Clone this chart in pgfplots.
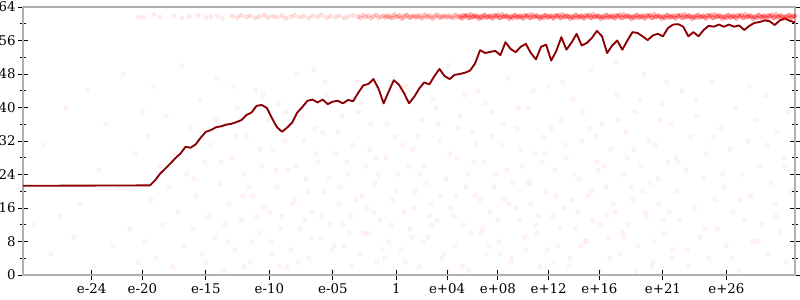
\documentclass[border=0pt]{standalone}
\usepackage{fontspec}
\setmainfont{DejaVu Serif}
\usepackage{pgfplots}
\pgfplotsset{compat=1.18}
\definecolor{lineRed}{RGB}{139,0,0}
\definecolor{axGray}{RGB}{176,176,176}
\begin{document}
\begin{tikzpicture}
\begin{axis}[
  scale only axis, width=579pt, height=201pt,
  xmin=-29.4, xmax=31.4, ymin=0, ymax=64,
  /pgf/number format/assume math mode=true,
  axis line style={draw=axGray, line width=1.1pt},
  tick style={black, line width=0.7pt},
  tick align=center,
  major tick length=8pt, minor tick length=4pt,
  xtick pos=bottom, ytick pos=both, yticklabel pos=left,
  xtick={-24,-20,-15,-10,-5,0,4,8,12,16,21,26},
  xticklabels={e-24,e-20,e-15,e-10,e-05,1,e+04,e+08,e+12,e+16,e+21,e+26},
  ytick={0,8,...,64}, minor y tick num=1,
  yticklabel style={xshift=2pt},
  xticklabel style={yshift=1pt},
  clip=false,
]
% scattered faint points
\addplot[only marks, mark=*, mark size=1.6pt, mark options={draw=red, fill=red, draw opacity=0.08, fill opacity=0.03}] coordinates {
(-28.5,12) (-27.8,31) (-27.2,5) (-26.5,14) (-26.0,40) (-25.4,9) (-24.9,17) (-24.3,44) (-23.8,2) (-23.4,25) (-22.9,36) (-22.3,7) (-21.9,21) (-21.5,48) (-21.0,11) (-20.6,29) (-20.3,3) (-20.0,39)
(-19.8,8) (-19.6,33) (-19.3,18) (-19.1,45) (-18.9,4) (-18.6,26) (-18.4,12) (-18.1,38) (-17.9,21) (-17.6,2) (-17.4,29) (-17.2,15) (-16.9,50) (-16.7,7) (-16.5,24) (-16.2,35) (-16.0,11) (-15.8,19) (-15.5,42) (-15.3,5) (-15.1,27) (-14.8,14) (-14.6,31) (-14.3,9) (-14.1,47) (-13.9,22) (-13.6,1) (-13.4,36) (-13.2,17) (-12.9,28) (-12.7,6) (-12.5,40) (-12.2,13) (-12.0,24) (-11.8,33) (-11.5,3) (-11.3,19) (-11.1,44) (-10.8,10) (-10.6,26) (-10.4,16) (-10.1,37) (-9.9,8) (-9.7,30) (-9.4,21) (-9.2,2) (-9.0,14) (-8.7,39) (-8.5,25) (-8.3,6) (-8.0,18) (-7.8,48) (-7.6,11) (-7.3,32) (-7.1,23) (-6.9,4) (-6.6,15) (-6.4,35) (-6.2,27) (-5.9,9) (-5.7,20) (-5.5,43) (-5.2,12) (-5.0,1) (-4.8,29) (-4.5,17) (-4.3,38) (-4.1,7) (-3.8,24) (-3.6,14) (-3.4,31) (-3.1,46) (-2.9,5) (-2.7,19) (-2.4,26) (-2.2,10) (-2.0,36) (-1.7,22) (-1.5,3) (-1.3,13) (-1.0,41) (-0.8,28) (-0.6,8) (-0.3,18) (-0.1,33)
(0.1,24) (0.4,6) (0.6,15) (0.8,45) (1.1,11) (1.3,30) (1.5,20) (1.8,2) (2.0,37) (2.2,26) (2.5,9) (2.7,17) (2.9,42) (3.2,13) (3.4,32) (3.6,4) (3.9,23) (4.1,50) (4.3,16) (4.6,7) (4.8,28) (5.0,38) (5.3,12) (5.5,21) (5.7,1) (6.0,34) (6.2,19) (6.4,44) (6.7,10) (6.9,27) (7.1,5) (7.4,15) (7.6,39) (7.8,24) (8.1,8) (8.3,31) (8.5,18) (8.8,47) (9.0,3) (9.2,22) (9.5,35) (9.7,13) (9.9,26) (10.2,6) (10.4,40) (10.6,17) (10.9,29) (11.1,10) (11.3,2) (11.6,33) (11.8,20) (12.0,45) (12.3,14) (12.5,25) (12.7,7) (13.0,37) (13.2,16) (13.4,28) (13.7,4) (13.9,42) (14.1,11) (14.4,23) (14.6,32) (14.8,8) (15.1,19) (15.3,49) (15.5,13) (15.8,27) (16.0,1) (16.2,36) (16.5,21) (16.7,9) (16.9,30) (17.2,15) (17.4,43) (17.6,5) (17.9,24) (18.1,34) (18.3,12) (18.6,18) (18.8,39) (19.0,7) (19.3,26) (19.5,48) (19.7,14) (20.0,22) (20.2,3) (20.4,31) (20.7,17) (20.9,41) (21.1,10) (21.4,27) (21.6,36) (21.8,6) (22.1,20) (22.3,13) (22.5,44) (22.8,25) (23.0,2) (23.2,33) (23.5,16) (23.7,38) (23.9,9) (24.2,23) (24.4,29) (24.6,4) (24.9,46) (25.1,18) (25.3,11) (25.6,35) (25.8,21) (26.0,7) (26.3,30) (26.5,15) (26.7,40) (27.0,1) (27.2,24) (27.4,13) (27.7,32) (27.9,19) (28.1,8) (28.4,37) (28.6,26) (28.8,12) (29.1,43) (29.3,5) (29.5,22) (29.8,17) (30.0,34) (30.2,10) (30.5,28) (30.7,3) (30.9,39) (31.1,20)
(-15.9,23) (-15.0,3) (-14.2,37) (-13.5,12) (-12.8,45) (-12.1,19) (-11.4,8) (-10.7,30) (-10.0,15) (-9.3,41) (-8.6,2) (-7.9,26) (-7.2,13) (-6.5,49) (-5.8,34) (-5.1,6) (-4.4,21) (-3.7,10) (-3.0,39) (-2.3,16) (-1.6,28) (-0.9,4) (-0.2,47) (0.5,31) (1.2,9) (1.9,24) (2.6,14) (3.3,36) (4.0,1) (4.7,19) (5.4,43) (6.1,27) (6.8,11) (7.5,33) (8.2,5) (8.9,17) (9.6,40) (10.3,22) (11.0,12) (11.7,29) (12.4,3) (13.1,46) (13.8,18) (14.5,7) (15.2,35) (15.9,25) (16.6,14) (17.3,51) (18.0,9) (18.7,30) (19.4,20) (20.1,2) (20.8,37) (21.5,15) (22.2,27) (22.9,6) (23.6,42) (24.3,11) (25.0,33) (25.7,24) (26.4,4) (27.1,18) (27.8,45) (28.5,8) (29.2,31) (29.9,14) (30.6,26) (31.2,47)
(-13.8,27) (-13.3,8) (-12.6,33) (-12.0,2) (-11.6,21) (-11.0,14) (-10.5,43) (-9.8,5) (-9.5,25) (-9.1,11) (-8.8,32) (-8.2,17) (-7.7,3) (-7.4,38) (-7.0,20) (-6.7,9) (-6.3,29) (-5.9,14) (-5.6,46) (-5.3,23) (-4.9,7) (-4.6,34) (-4.2,12) (-3.9,27) (-3.5,2) (-3.2,18) (-2.8,41) (-2.5,10) (-2.1,30) (-1.8,15) (-1.4,24) (-1.1,6) (-0.7,36) (-0.4,12) (0.0,20) (0.3,44) (0.7,3) (1.0,26) (1.4,16) (1.7,33) (2.1,8) (2.4,22) (2.8,12) (3.1,40) (3.5,19) (3.8,5) (4.2,29) (4.5,14) (4.9,35) (5.2,2) (5.6,24) (5.9,10) (6.3,31) (6.6,18) (7.0,41) (7.3,7) (7.7,21) (8.0,13) (8.4,36) (8.7,25) (9.1,4) (9.4,16) (9.8,30) (10.1,9) (10.5,22) (10.8,44) (11.2,14) (11.5,27) (11.9,6) (12.2,35) (12.6,19) (12.9,11) (13.3,31) (13.6,2) (14.0,24) (14.3,15) (14.7,39) (15.0,8) (15.4,20) (15.7,33) (16.1,12) (16.4,26) (16.8,4) (17.1,17) (17.5,37) (17.8,10) (18.2,28) (18.5,21) (18.9,1) (19.2,42) (19.6,15) (19.9,32) (20.3,8) (20.6,23) (21.0,13) (21.3,46) (21.7,4) (22.0,28)
};
% band near 62
\addplot[only marks, mark=*, mark size=1.6pt, mark options={draw=red, fill=red, draw opacity=0.08, fill opacity=0.07}] coordinates {
(-20.3,61.7) (-19.9,61.5) (-19.1,62.2) (-18.6,61.6) (-17.5,61.9) (-16.9,61.4) (-16.3,61.8) (-15.6,62.0) (-15.0,61.5) (-14.6,61.7) (-14.1,61.9) (-13.7,61.3)
};
\addplot[only marks, mark=*, mark size=1.6pt, mark options={draw=red, fill=red, draw opacity=0.12, fill opacity=0.12}] coordinates {
(-12.9,61.8) (-12.5,61.5) (-12.2,62.0) (-11.8,61.6) (-11.5,61.9) (-11.1,61.4) (-10.8,61.7) (-10.4,62.1) (-10.1,61.5) (-9.7,61.8) (-9.4,61.6) (-9.0,61.9) (-8.7,61.3) (-8.3,61.7) (-8.0,62.0) (-7.6,61.6) (-7.3,61.8) (-6.9,61.4) (-6.6,61.9) (-6.2,61.7) (-5.9,62.1) (-5.5,61.5) (-5.2,61.8) (-4.8,61.6) (-4.5,61.9) (-4.1,61.4) (-3.8,61.7) (-3.4,62.0)
};
\addplot[only marks, mark=*, mark size=1.6pt, mark options={draw=red, fill=red, draw opacity=0.17, fill opacity=0.17}] coordinates {
(-3.0,61.7) (-2.8,61.4) (-2.6,62.0) (-2.4,61.6) (-2.2,61.9) (-2.0,61.3) (-1.8,61.8) (-1.6,62.1) (-1.4,61.5) (-1.2,61.7) (-1.0,61.9) (-0.8,61.6) (-0.6,61.7) (-0.4,61.4) (-0.2,62.0) (0.0,61.6) (0.2,61.9) (0.4,61.3) (0.6,61.8) (0.8,62.1) (1.0,61.5) (1.2,61.7) (1.4,61.9) (1.6,61.6) (1.8,61.7) (2.0,61.4) (2.2,62.0) (2.4,61.6) (2.6,61.9) (2.8,61.3) (3.0,61.8) (3.2,62.1) (3.4,61.5) (3.6,61.7) (3.8,61.9) (4.0,61.6) (4.2,61.7) (4.4,61.4) (4.6,62.0) (4.8,61.6)
};
\addplot[only marks, mark=*, mark size=1.6pt, mark options={draw=red, fill=red, draw opacity=0.1, fill opacity=0.1}] coordinates {
(-0.9,61.5) (-0.7,62.0) (-0.5,61.8) (-0.3,61.4) (-0.1,62.2) (0.1,61.6) (0.3,61.9) (0.5,61.2) (0.7,61.7) (0.9,62.0) (1.1,61.5) (1.3,61.8) (1.5,61.5) (1.7,62.0) (1.9,61.8) (2.1,61.4) (2.3,62.2) (2.5,61.6) (2.7,61.9) (2.9,61.2) (3.1,61.7) (3.3,62.0) (3.5,61.5) (3.7,61.8) (3.9,61.5) (4.1,62.0) (4.3,61.8) (4.5,61.4) (4.7,62.2) (4.9,61.6)
};
\addplot[only marks, mark=*, mark size=1.6pt, mark options={draw=red, fill=red, draw opacity=0.24, fill opacity=0.24}] coordinates {
(5.0,61.9) (5.2,61.3) (5.4,61.8) (5.6,62.1) (5.8,61.5) (6.0,61.7) (6.2,61.9) (6.4,61.6) (6.6,61.7) (6.8,61.4) (7.0,62.0) (7.2,61.6) (7.4,61.9) (7.6,61.3) (7.8,61.8) (8.0,62.1) (8.2,61.5) (8.4,61.7) (8.6,61.9) (8.8,61.6) (9.0,61.7) (9.2,61.4) (9.4,62.0) (9.6,61.6) (9.8,61.9) (10.0,61.3) (10.2,61.8) (10.4,62.1) (10.6,61.5) (10.8,61.7) (11.0,61.9) (11.2,61.6) (11.4,61.7) (11.6,61.4) (11.8,62.0) (12.0,61.6) (12.2,61.9) (12.4,61.3) (12.6,61.8) (12.8,62.1) (13.0,61.5) (13.2,61.7) (13.4,61.9) (13.6,61.6) (13.8,61.7) (14.0,61.4) (14.2,62.0) (14.4,61.6) (14.6,61.9) (14.8,61.3) (15.0,61.8) (15.2,62.1) (15.4,61.5) (15.6,61.7) (15.8,61.9) (16.0,61.6) (16.2,61.7) (16.4,61.4) (16.6,62.0) (16.8,61.6) (17.0,61.9) (17.2,61.3) (17.4,61.8) (17.6,62.1) (17.8,61.5) (18.0,61.7) (18.2,61.9) (18.4,61.6) (18.6,61.7) (18.8,61.4) (19.0,62.0) (19.2,61.6) (19.4,61.9) (19.6,61.3) (19.8,61.8) (20.0,62.1) (20.2,61.5) (20.4,61.7) (20.6,61.9) (20.8,61.6) (21.0,61.7) (21.2,61.4) (21.4,62.0) (21.6,61.6) (21.8,61.9) (22.0,61.3) (22.2,61.8) (22.4,62.1) (22.6,61.5) (22.8,61.7) (23.0,61.9) (23.2,61.6) (23.4,61.7) (23.6,61.4) (23.8,62.0) (24.0,61.6) (24.2,61.9) (24.4,61.3) (24.6,61.8) (24.8,62.1) (25.0,61.5) (25.2,61.7) (25.4,61.9) (25.6,61.6) (25.8,61.7) (26.0,61.4) (26.2,62.0) (26.4,61.6) (26.6,61.9) (26.8,61.3) (27.0,61.8) (27.2,62.1) (27.4,61.5) (27.6,61.7) (27.8,61.9) (28.0,61.6) (28.2,61.7) (28.4,61.4) (28.6,62.0) (28.8,61.6) (29.0,61.9) (29.2,61.3) (29.4,61.8) (29.6,62.1) (29.8,61.5) (30.0,61.7) (30.2,61.9) (30.4,61.6) (30.6,61.7) (30.8,61.4) (31.0,62.0) (31.2,61.6) (31.4,61.9)
(5.1,61.5) (5.3,62.0) (5.5,61.8) (5.7,61.4) (5.9,62.2) (6.1,61.6) (6.3,61.9) (6.5,61.2) (6.7,61.7) (6.9,62.0) (7.1,61.5) (7.3,61.8) (7.5,61.5) (7.7,62.0) (7.9,61.8) (8.1,61.4) (8.3,62.2) (8.5,61.6) (8.7,61.9) (8.9,61.2) (9.1,61.7) (9.3,62.0) (9.5,61.5) (9.7,61.8) (9.9,61.5) (10.1,62.0) (10.3,61.8) (10.5,61.4) (10.7,62.2) (10.9,61.6) (11.1,61.9) (11.3,61.2) (11.5,61.7) (11.7,62.0) (11.9,61.5) (12.1,61.8) (12.3,61.5) (12.5,62.0) (12.7,61.8) (12.9,61.4) (13.1,62.2) (13.3,61.6) (13.5,61.9) (13.7,61.2) (13.9,61.7) (14.1,62.0) (14.3,61.5) (14.5,61.8) (14.7,61.5) (14.9,62.0) (15.1,61.8) (15.3,61.4) (15.5,62.2) (15.7,61.6) (15.9,61.9) (16.1,61.2) (16.3,61.7) (16.5,62.0) (16.7,61.5) (16.9,61.8) (17.1,61.5) (17.3,62.0) (17.5,61.8) (17.7,61.4) (17.9,62.2) (18.1,61.6) (18.3,61.9) (18.5,61.2) (18.7,61.7) (18.9,62.0) (19.1,61.5) (19.3,61.8) (19.5,61.5) (19.7,62.0) (19.9,61.8) (20.1,61.4) (20.3,62.2) (20.5,61.6) (20.7,61.9) (20.9,61.2) (21.1,61.7) (21.3,62.0) (21.5,61.5) (21.7,61.8) (21.9,61.5) (22.1,62.0) (22.3,61.8) (22.5,61.4) (22.7,62.2) (22.9,61.6) (23.1,61.9) (23.3,61.2) (23.5,61.7) (23.7,62.0) (23.9,61.5) (24.1,61.8) (24.3,61.5) (24.5,62.0) (24.7,61.8) (24.9,61.4) (25.1,62.2) (25.3,61.6) (25.5,61.9) (25.7,61.2) (25.9,61.7) (26.1,62.0) (26.3,61.5) (26.5,61.8) (26.7,61.5) (26.9,62.0) (27.1,61.8) (27.3,61.4) (27.5,62.2) (27.7,61.6) (27.9,61.9) (28.1,61.2) (28.3,61.7) (28.5,62.0) (28.7,61.5) (28.9,61.8) (29.1,61.5) (29.3,62.0) (29.5,61.8) (29.7,61.4) (29.9,62.2) (30.1,61.6) (30.3,61.9) (30.5,61.2) (30.7,61.7) (30.9,62.0) (31.1,61.5) (31.3,61.8)
};
% main line
\addplot[color=lineRed, line width=1.4pt, line join=round, no marks] coordinates {
(-29.4,21.3) (-19.4,21.4) (-19.0,22.6) (-18.6,24.2) (-18.2,25.4) (-17.8,26.6) (-17.4,27.9) (-17.0,29.0) (-16.6,30.6) (-16.2,30.4) (-15.8,31.2) (-15.4,32.8) (-15.0,34.2) (-14.6,34.6) (-14.2,35.3) (-13.8,35.5) (-13.4,35.9) (-13.0,36.1) (-12.6,36.5) (-12.2,37.0) (-11.8,38.2) (-11.4,38.8) (-11.0,40.4) (-10.6,40.6) (-10.2,39.9) (-9.8,37.5) (-9.4,35.3) (-9.0,34.2) (-8.6,35.2) (-8.2,36.4) (-7.8,38.8) (-7.4,40.1) (-7.0,41.6) (-6.6,41.9) (-6.2,41.2) (-5.8,41.9) (-5.4,40.8) (-5.0,41.4) (-4.6,41.6) (-4.2,41.0) (-3.8,41.8) (-3.4,41.5) (-3.0,43.5) (-2.6,45.3) (-2.2,45.6) (-1.8,46.8) (-1.4,44.5) (-1.0,41.0) (-0.6,43.8) (-0.2,46.5) (0.2,45.5) (0.6,43.5) (1.0,41.0) (1.4,42.5) (1.8,44.5) (2.2,46.0) (2.6,45.5) (3.0,47.5) (3.4,49.2) (3.8,47.5) (4.2,46.8) (4.6,47.8) (5.0,48.0) (5.4,48.3) (5.8,48.8) (6.2,50.5) (6.6,53.7) (7.0,53.0) (7.4,53.3) (7.8,53.5) (8.2,52.5) (8.6,55.6) (9.0,54.0) (9.4,53.2) (9.8,54.5) (10.2,55.2) (10.6,53.0) (11.0,51.5) (11.4,54.5) (11.8,55.0) (12.2,51.2) (12.6,53.5) (13.0,56.8) (13.4,53.8) (13.8,55.5) (14.2,57.6) (14.6,54.8) (15.0,55.4) (15.4,56.6) (15.8,58.3) (16.2,57.0) (16.6,53.0) (17.0,54.8) (17.4,56.0) (17.8,53.8) (18.2,56.0) (18.6,58.0) (19.0,57.8) (19.4,57.0) (19.8,56.1) (20.2,57.2) (20.6,57.6) (21.0,57.0) (21.4,59.0) (21.8,59.8) (22.2,59.9) (22.6,59.3) (23.0,57.0) (23.4,58.0) (23.8,57.0) (24.2,58.5) (24.6,59.5) (25.0,59.3) (25.4,59.8) (25.8,59.3) (26.2,59.8) (26.6,59.3) (27.0,59.6) (27.4,58.5) (27.8,59.5) (28.2,60.2) (28.6,60.4) (29.0,60.8) (29.4,60.6) (29.8,59.7) (30.2,60.8) (30.6,61.3) (31.0,60.7) (31.4,60.3)
};
\end{axis}
\pgfresetboundingbox
\path[use as bounding box] ([shift={(-17.25pt,-18.75pt)}]current axis.south west) rectangle ([shift={(3.75pt,5.25pt)}]current axis.north east);
\end{tikzpicture}
\end{document}
